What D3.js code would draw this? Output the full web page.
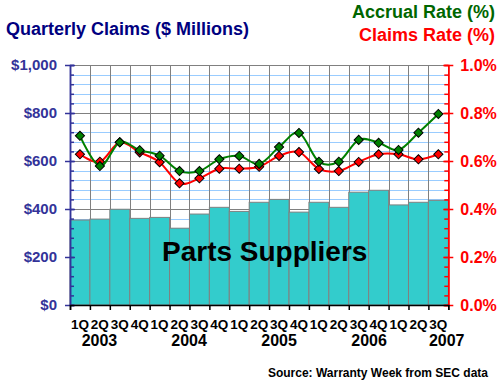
<!DOCTYPE html>
<html lang="en">
<head>
  <meta charset="UTF-8">
  <title>Parts Suppliers Warranty Claims</title>
  <script src="https://d3js.org/d3.v7.min.js"></script>
  <style>
    body { margin: 0; background: #fff; }
    svg { display: block; font-family: Arial, "Liberation Sans", sans-serif; font-weight: bold; }
  </style>
</head>
<body>
  <div id="chart"></div>

  <script>
    // Data
    const quarters = ['1Q','2Q','3Q','4Q','1Q','2Q','3Q','4Q','1Q','2Q','3Q','4Q','1Q','2Q','3Q','4Q','1Q','2Q','3Q'];
    const claims = [354, 358, 399, 361, 365, 320, 379, 407, 390, 428, 440, 387, 428, 407, 470, 478, 417, 428, 436];
    const accrualRate = [0.705, 0.579, 0.678, 0.645, 0.622, 0.558, 0.558, 0.607, 0.621, 0.588, 0.658, 0.717, 0.597, 0.597, 0.688, 0.676, 0.646, 0.718, 0.796];
    const claimsRate = [0.628, 0.597, 0.678, 0.636, 0.595, 0.507, 0.528, 0.568, 0.568, 0.576, 0.621, 0.637, 0.567, 0.558, 0.596, 0.628, 0.628, 0.607, 0.628];
    const years = ['2003', '2004', '2005', '2006', '2007'];
    const yearPos = [1.48, 5.98, 10.5, 15.02, 18.92]; // in quarter units from the left edge
    const leftTicks = [0, 200, 400, 600, 800, 1000];
    const rightTicks = [0, 0.2, 0.4, 0.6, 0.8, 1.0];

    const width = 500, height = 384;
    const plot = { left: 70, right: 448.3, top: 65, bottom: 305 };

    const svg = d3.select('#chart').append('svg')
      .attr('width', width)
      .attr('height', height);

    const idx = d3.range(quarters.length);
    const x = d3.scaleBand().domain(idx).range([plot.left, plot.right]).padding(0);
    const xq = d3.scaleLinear().domain([0, quarters.length]).range([plot.left, plot.right]);
    const y = d3.scaleLinear().domain([0, 1000]).range([plot.bottom, plot.top]);
    const yr = d3.scaleLinear().domain([0, 1.0]).range([plot.bottom, plot.top]);

    const minorTicks = d3.range(0, 1001, 40);

    // Horizontal grid
    svg.append('g').selectAll('line')
      .data(minorTicks)
      .join('line')
      .attr('x1', plot.left).attr('x2', plot.right)
      .attr('y1', d => Math.round(y(d)) + 0.5).attr('y2', d => Math.round(y(d)) + 0.5)
      .attr('stroke', d => d % 200 === 0 ? '#808080' : '#99ccff')
      .attr('stroke-width', 1);

    // Vertical grid
    svg.append('g').selectAll('line')
      .data(d3.range(1, quarters.length))
      .join('line')
      .attr('x1', d => Math.round(xq(d)) + 0.5).attr('x2', d => Math.round(xq(d)) + 0.5)
      .attr('y1', plot.top).attr('y2', plot.bottom)
      .attr('stroke', '#808080');

    // Bars
    svg.append('g').selectAll('rect')
      .data(claims)
      .join('rect')
      .attr('x', (d, i) => x(i))
      .attr('y', d => y(d))
      .attr('width', x.bandwidth())
      .attr('height', d => plot.bottom - y(d))
      .attr('fill', '#33cccc')
      .attr('stroke', '#808080')
      .attr('stroke-width', 1);

    // Big label
    svg.append('text')
      .attr('x', 162).attr('y', 261)
      .attr('font-size', 28)
      .attr('fill', '#000')
      .text('Parts Suppliers');

    // Lines
    const line = d3.line()
      .x((d, i) => x(i) + x.bandwidth() / 2)
      .y(d => yr(d))
      .curve(d3.curveCatmullRom.alpha(0));

    const diamond = d3.symbol().type(d3.symbolSquare).size(42);

    function drawSeries(data, color) {
      svg.append('path')
        .datum(data)
        .attr('d', line)
        .attr('fill', 'none')
        .attr('stroke', color)
        .attr('stroke-width', 2);
      svg.append('g').selectAll('path')
        .data(data)
        .join('path')
        .attr('d', diamond)
        .attr('transform', (d, i) => `translate(${x(i) + x.bandwidth() / 2},${yr(d)}) rotate(45)`)
        .attr('fill', color)
        .attr('stroke', '#000')
        .attr('stroke-width', 1);
    }
    drawSeries(claimsRate, '#ff0000');
    drawSeries(accrualRate, '#008000');

    // Left axis
    const leftAxis = svg.append('g')
      .attr('transform', `translate(${plot.left},0)`)
      .call(d3.axisLeft(y).tickValues(leftTicks).tickSizeInner(5).tickSizeOuter(0).tickPadding(8)
        .tickFormat(d => '$' + d3.format(',')(d)));
    leftAxis.selectAll('.tick line').attr('x1', 5);
    leftAxis.append('g').call(d3.axisRight(y).tickValues(minorTicks).tickSize(4).tickFormat(''));
    leftAxis.selectAll('path, line').attr('stroke', '#333399').attr('stroke-width', 1.5);
    leftAxis.selectAll('text')
      .attr('fill', '#333399').attr('font-size', 15)
      .attr('font-family', 'Arial, "Liberation Sans", sans-serif').attr('font-weight', 'bold');

    // Right axis
    const rightAxis = svg.append('g')
      .attr('transform', `translate(${plot.right},0)`)
      .call(d3.axisRight(yr).tickValues(rightTicks).tickSizeInner(5).tickSizeOuter(0).tickPadding(7)
        .tickFormat(d => d.toFixed(1) + '%'));
    rightAxis.selectAll('.tick line').attr('x1', -5);
    rightAxis.append('g').call(d3.axisLeft(yr).tickValues(minorTicks.map(d => d / 1000)).tickSize(4).tickFormat(''));
    rightAxis.selectAll('path, line').attr('stroke', '#ff0000').attr('stroke-width', 1.5);
    rightAxis.selectAll('text')
      .attr('fill', '#ff0000').attr('font-size', 16)
      .attr('font-family', 'Arial, "Liberation Sans", sans-serif').attr('font-weight', 'bold');

    // Bottom axis
    const bottomAxis = svg.append('g')
      .attr('transform', `translate(0,${plot.bottom})`)
      .call(d3.axisBottom(xq).tickValues(d3.range(0, quarters.length + 1)).tickSize(5).tickFormat(''));
    bottomAxis.selectAll('path, line').attr('stroke', '#000').attr('stroke-width', 1.5);

    svg.append('g').selectAll('text')
      .data(quarters)
      .join('text')
      .attr('x', (d, i) => x(i) + x.bandwidth() / 2)
      .attr('y', 329)
      .attr('text-anchor', 'middle')
      .attr('font-size', 13.5)
      .text(d => d);

    svg.append('g').selectAll('text')
      .data(years)
      .join('text')
      .attr('x', (d, i) => xq(yearPos[i]))
      .attr('y', 346)
      .attr('text-anchor', 'middle')
      .attr('font-size', 16)
      .text(d => d);

    // Titles
    svg.append('text')
      .attr('x', 6).attr('y', 35)
      .attr('font-size', 18)
      .attr('fill', '#000080')
      .text('Quarterly Claims ($ Millions)');

    svg.append('text')
      .attr('x', 495).attr('y', 18)
      .attr('text-anchor', 'end')
      .attr('font-size', 18)
      .attr('fill', '#006600')
      .text('Accrual Rate (%)');

    svg.append('text')
      .attr('x', 495).attr('y', 41)
      .attr('text-anchor', 'end')
      .attr('font-size', 18)
      .attr('fill', '#ff0000')
      .text('Claims Rate (%)');

    svg.append('text')
      .attr('x', 488).attr('y', 377)
      .attr('text-anchor', 'end')
      .attr('font-size', 12)
      .text('Source: Warranty Week from SEC data');
  </script>
</body>
</html>
